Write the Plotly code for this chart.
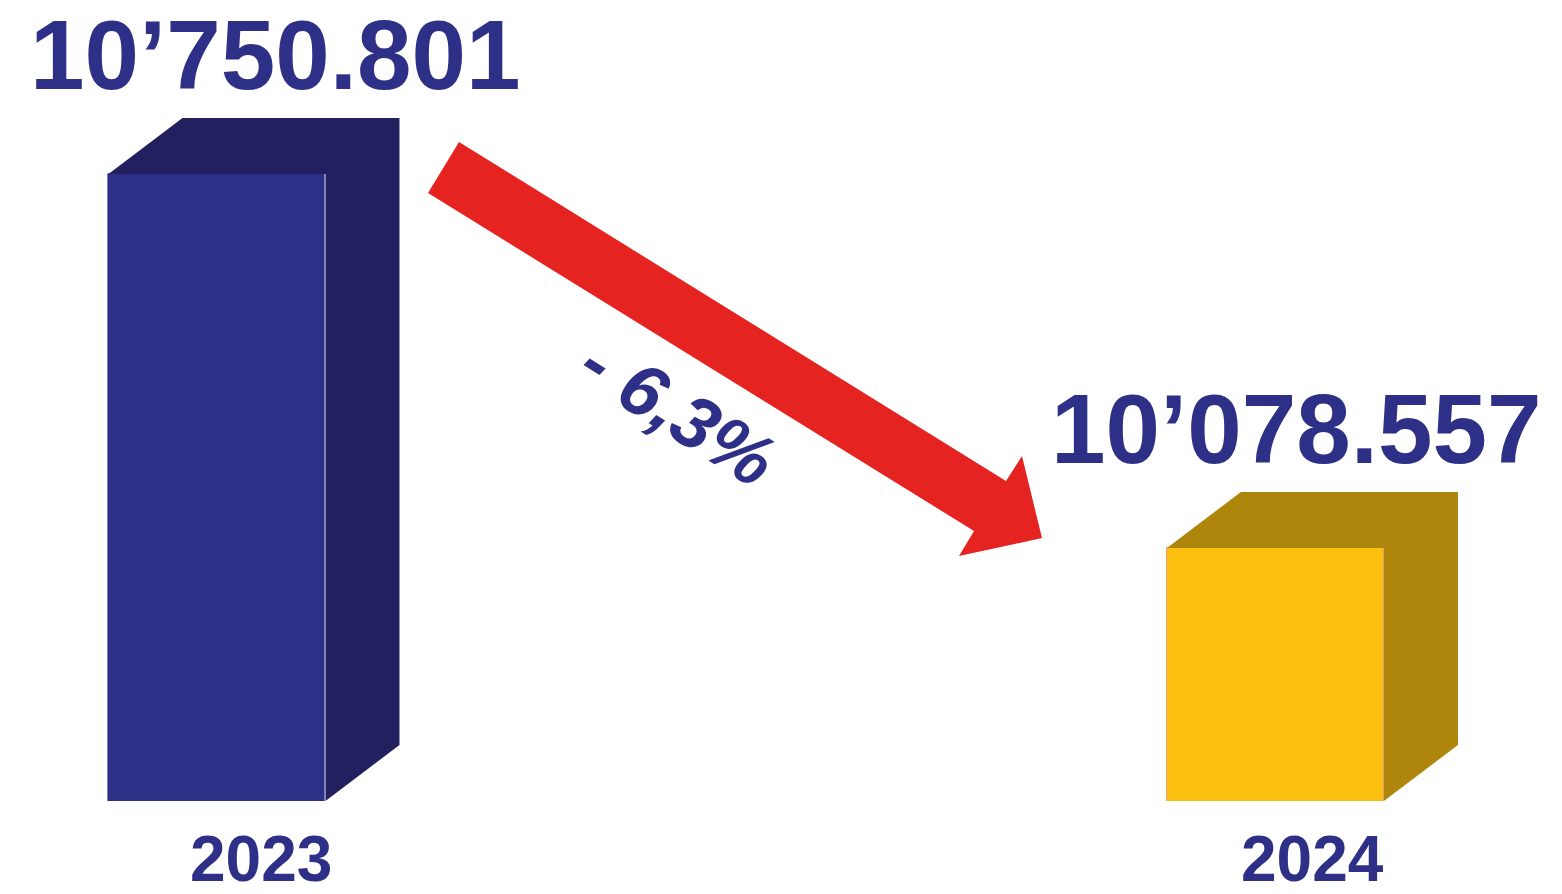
import plotly.graph_objects as go

# ---- data ----
years = ["2023", "2024"]
values = [10750.801, 10078.557]
value_labels = ["10’750.801", "10’078.557"]
change_label = "- 6,3%"

# ---- styles ----
front_colors = ["#2E3087", "#FBBF0F"]
edge_colors = ["#7C7DB8", "#E9A07A"]
side_colors = ["#232060", "#AD860B"]
text_color = "#2E3087"
arrow_color = "#E52421"
FONT = "Liberation Sans, Arial, sans-serif"

W, H = 1562, 894
MB = 93                      # bottom margin
PLOT_H = H - MB
XR = [-0.205, 1.2707]
YR = [9623.7, 11063.5]
px_per_x = W / (XR[1] - XR[0])
units_per_py = (YR[1] - YR[0]) / PLOT_H
DX = 74 / px_per_x           # depth offset (x)
DY = 56 * units_per_py       # depth offset (y)
BAR_W = 0.205
xs = list(range(len(years)))

fig = go.Figure()

# side + top faces (3D effect)
for i, (x, v) in enumerate(zip(xs, values)):
    l, r = x - BAR_W / 2, x + BAR_W / 2
    px = [l, l + DX, r + DX, r + DX, r, r, l]
    py = [v, v + DY, v + DY, YR[0] + DY, YR[0], v, v]
    fig.add_trace(go.Scatter(x=px, y=py, mode="lines", fill="toself",
                             fillcolor=side_colors[i], line=dict(width=0),
                             hoverinfo="skip", showlegend=False))

# front faces
fig.add_trace(go.Bar(x=xs, y=values, width=BAR_W,
                     marker=dict(color=front_colors,
                                 line=dict(color=edge_colors, width=1)),
                     showlegend=False))

# value labels
label_xshift = [21, -16]
for i, (x, v) in enumerate(zip(xs, values)):
    fig.add_annotation(x=x + DX / 2, y=v, xref="x", yref="y",
                       text="<b>" + value_labels[i] + "</b>", showarrow=False,
                       yanchor="bottom", xanchor="center", borderpad=0,
                       xshift=label_xshift[i], yshift=63,
                       font=dict(family=FONT, size=98, color=text_color))

# year labels
year_xshift = [7, 0]
for i, x in enumerate(xs):
    fig.add_annotation(x=x + DX / 2, y=0, xref="x", yref="paper",
                       text="<b>" + years[i] + "</b>", showarrow=False,
                       yanchor="top", xanchor="center",
                       xshift=year_xshift[i], yshift=-20,
                       font=dict(family=FONT, size=64, color=text_color))

# red arrow (pixel outline -> paper coords)
def P(px, py):
    return px / W, (PLOT_H - py) / PLOT_H

arrow_px = [(459, 142), (1006, 481), (1022, 456), (1042, 538),
            (959, 556), (974, 531), (428, 193)]
path = ""
for k, (a, b) in enumerate(arrow_px):
    u, w = P(a, b)
    path += ("M" if k == 0 else " L") + f"{u:.5f},{w:.5f}"
path += " Z"
fig.add_shape(type="path", path=path, xref="paper", yref="paper",
              fillcolor=arrow_color, line=dict(width=0))

cx, cy = P(678, 412)
fig.add_annotation(x=cx, y=cy, xref="paper", yref="paper",
                   text="<b><i>" + change_label + "</i></b>", showarrow=False,
                   textangle=32, xanchor="center", yanchor="middle",
                   font=dict(family=FONT, size=74, color=text_color))

fig.update_layout(
    width=W, height=H,
    margin=dict(l=0, r=0, t=0, b=MB),
    paper_bgcolor="white", plot_bgcolor="white",
    xaxis=dict(range=XR, showgrid=False, zeroline=False,
               showticklabels=False, showline=False, fixedrange=True),
    yaxis=dict(range=YR, showgrid=False, zeroline=False,
               showticklabels=False, showline=False, fixedrange=True),
    bargap=0,
)

fig.write_html("out.html")
